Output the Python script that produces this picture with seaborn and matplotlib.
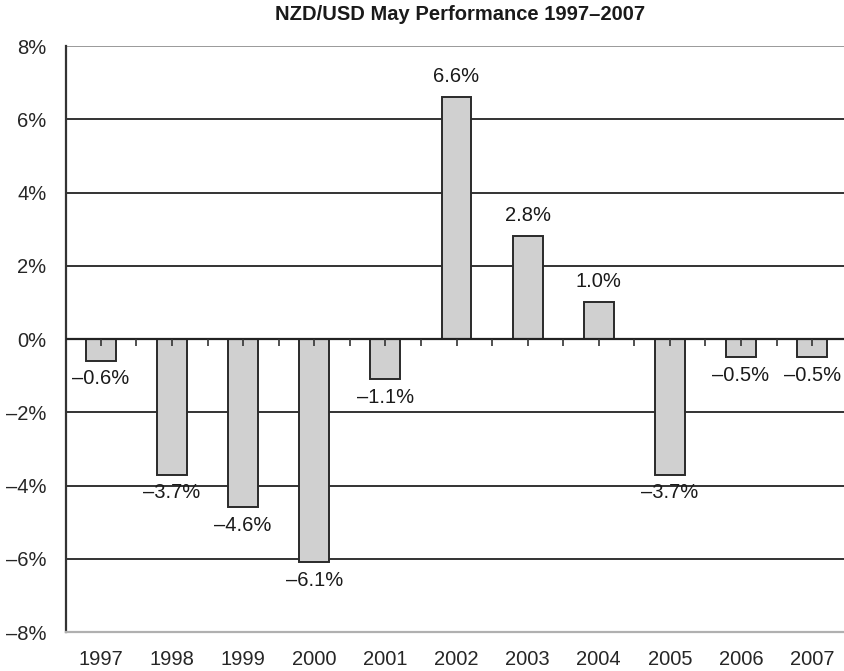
import numpy as np
import pandas as pd
import matplotlib
matplotlib.use("Agg")
import matplotlib.pyplot as plt
import seaborn as sns

# data
years = ["1997", "1998", "1999", "2000", "2001", "2002", "2003", "2004", "2005", "2006", "2007"]
perf = [-0.6, -3.7, -4.6, -6.1, -1.1, 6.6, 2.8, 1.0, -3.7, -0.5, -0.5]
y_ticks = [-8, -6, -4, -2, 0, 2, 4, 6, 8]

df = pd.DataFrame({"year": years, "perf": perf})

sns.set_style("white")
plt.rcParams["font.family"] = ["Liberation Sans", "DejaVu Sans"]

fig = plt.figure(figsize=(8.44, 6.71), dpi=100)
ax = fig.add_axes([0.0782, 0.0581, 0.922, 0.8733])

# gridlines behind bars
for v in y_ticks:
    if v in (-8, 0):
        continue
    col = "#9a9a9a" if v == 8 else "#333333"
    ax.axhline(v, color=col, lw=1.4, zorder=0)

sns.barplot(data=df, x="year", y="perf", color="#d0d0d0", width=0.42,
            edgecolor="#2a2a2a", linewidth=1.4, saturation=1, ax=ax, zorder=2)

ax.axhline(0, color="#222222", lw=1.6, zorder=3)

ax.set_ylim(-8, 8)
ax.set_xlim(-0.49, 10.45)
ax.set_yticks(y_ticks)
ax.set_yticklabels([f"{v}%".replace("-", "\u2013") for v in y_ticks], fontsize=14.5)
ax.set_xlabel("")
ax.set_ylabel("")
ax.tick_params(axis="x", length=0, labelsize=14.5, pad=13)
ax.tick_params(axis="y", length=5, width=1.4, color="#333333", direction="out", pad=9)

for s in ["top", "right"]:
    ax.spines[s].set_visible(False)
ax.spines["left"].set_color("#333333")
ax.spines["left"].set_linewidth(1.6)
ax.spines["bottom"].set_color("#b0b0b0")
ax.spines["bottom"].set_linewidth(1.6)

# small ticks along the zero line, pointing down (drawn over the bars)
sec = ax.secondary_xaxis(0.5)
sec.set_xticks(np.arange(-0.5, 11, 0.5))
sec.set_xticklabels([])
sec.tick_params(axis="x", length=5, width=1.2, color="#333333", direction="in",
                labeltop=False, labelbottom=False)
for s in sec.spines.values():
    s.set_visible(False)
sec.set_zorder(5)

# value labels
for i, v in enumerate(perf):
    txt = f"{v:.1f}%".replace("-", "\u2013")
    off = 8 if v > 0 else -6
    ax.annotate(txt, (i, v), xytext=(0, off), textcoords="offset points",
                ha="center", va="bottom" if v > 0 else "top", fontsize=14.5, color="#1a1a1a")

fig.text(460 / 844, 1 - 15 / 671, "NZD/USD May Performance 1997\u20132007",
         ha="center", va="center", fontsize=14.5, fontweight="bold", color="#1a1a1a")

fig.savefig("out.png", dpi=100)
